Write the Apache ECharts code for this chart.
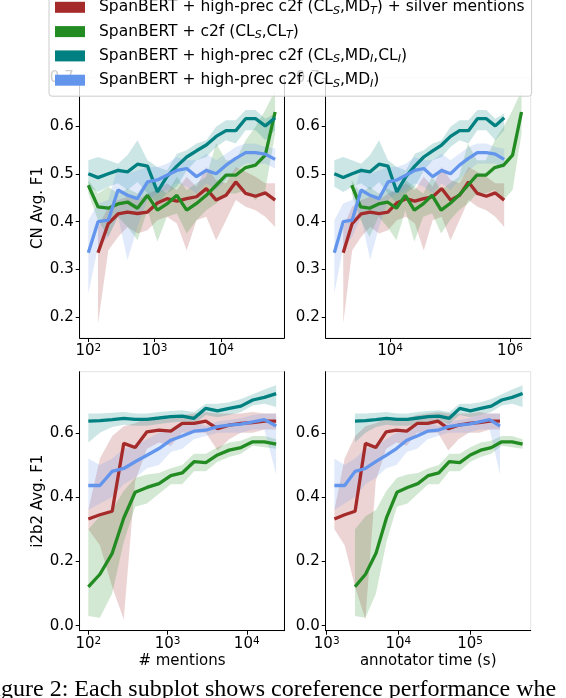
<!DOCTYPE html>
<html><head><meta charset="utf-8">
<style>html,body{margin:0;padding:0;background:#fff}#c{width:566px;height:698px}</style>
<script src="https://cdn.jsdelivr.net/npm/echarts@6/dist/echarts.min.js"></script>
</head><body><div id="c"></div>
<script>
// ---------- categories ----------
const modelNames = [
  'SpanBERT + high-prec c2f (CL_S,MD_T) + silver mentions',
  'SpanBERT + c2f (CL_S,CL_T)',
  'SpanBERT + high-prec c2f (CL_S,MD_I,CL_I)',
  'SpanBERT + high-prec c2f (CL_S,MD_I)'
];
const modelColors = ['#a52a2a', '#228b22', '#008080', '#6495ed'];

// ---------- x values ----------
const cnMentions = [100,140,200,280,390,550,780,1100,1530,2160,3040,4270,6000,8450,11900,16700,23500,33100,46500,65400];
const cnTimeHP   = [1180,1660,2340,3300,4660,6560,9250,13000,18400,25900,36500,51400,72400,102000,144000,203000,286000,403000,568000,800000];
const cnTimeC2F  = [2300,3240,4560,6430,9060,12800,18000,25400,35700,50400,71000,100000,141000,199000,280000,395000,556000,783000,1104000,1556000];
const i2b2Mentions = [100,140,200,280,390,550,780,1100,1530,2160,3040,4270,6000,8450,11900,16700,23500];
const i2b2TimeA  = [1280,1780,2490,3470,4840,6750,9420,13100,18300,25600,35700,49700,69300,96700,135000,188000,262000];
const i2b2TimeB  = [2480,3480,4870,6820,9550,13400,18700,26200,36700,51400,71900,101000,141000,198000,277000,387000,542000];

// ---------- CN values ----------
const cnSilver   = [null,0.335,0.396,0.416,0.420,0.417,0.420,0.439,0.448,0.443,0.448,0.452,0.469,0.445,0.455,0.483,0.459,0.453,0.460,0.445];
const cnSilverHi = [null,0.389,0.431,0.445,0.452,0.445,0.459,0.466,0.480,0.466,0.494,0.473,0.514,0.487,0.480,0.514,0.504,0.494,0.480,0.480];
const cnSilverLo = [null,0.187,0.340,0.368,0.389,0.375,0.382,0.403,0.410,0.396,0.340,0.403,0.410,0.361,0.403,0.445,0.431,0.424,0.410,0.389];
const cnC2f      = [0.476,0.431,0.428,0.437,0.441,0.428,0.455,0.424,0.437,0.455,0.424,0.438,0.455,0.476,0.497,0.497,0.513,0.518,0.539,0.629];
const cnC2fHi    = [0.487,0.459,0.473,0.459,0.469,0.459,0.487,0.473,0.459,0.494,0.466,0.480,0.494,0.563,0.528,0.528,0.570,0.598,0.633,0.674];
const cnC2fLo    = [0.459,0.403,0.368,0.410,0.389,0.361,0.424,0.358,0.410,0.417,0.375,0.403,0.424,0.438,0.459,0.459,0.466,0.445,0.466,0.584];
const cnMdCl     = [0.500,0.492,0.500,0.507,0.504,0.520,0.516,0.462,0.494,0.516,0.535,0.548,0.560,0.578,0.590,0.590,0.615,0.615,0.600,0.617];
const cnMdClHi   = [0.528,0.535,0.528,0.521,0.539,0.570,0.528,0.514,0.507,0.542,0.549,0.563,0.570,0.598,0.612,0.612,0.633,0.633,0.615,0.626];
const cnMdClLo   = [0.473,0.462,0.473,0.480,0.466,0.483,0.459,0.438,0.459,0.473,0.507,0.528,0.535,0.556,0.570,0.563,0.591,0.591,0.570,0.591];
const cnMd       = [0.335,0.400,0.403,0.466,0.455,0.448,0.483,0.487,0.497,0.507,0.511,0.494,0.507,0.500,0.518,0.532,0.544,0.544,0.541,0.530];
const cnMdHi     = [0.403,0.438,0.445,0.514,0.500,0.507,0.514,0.514,0.521,0.535,0.528,0.528,0.542,0.528,0.542,0.556,0.563,0.563,0.556,0.553];
const cnMdLo     = [0.250,0.347,0.368,0.410,0.320,0.389,0.445,0.459,0.466,0.480,0.473,0.459,0.480,0.466,0.487,0.507,0.521,0.521,0.521,0.511];

// ---------- i2b2 values ----------
const iSilver   = [0.332,0.345,0.356,0.567,0.554,0.603,0.608,0.605,0.629,0.629,0.636,0.613,0.624,0.629,0.632,0.636,0.636];
const iSilverHi = [0.360,0.520,0.590,0.620,0.630,0.645,0.640,0.645,0.655,0.660,0.665,0.660,0.660,0.660,0.665,0.660,0.660];
const iSilverLo = [0.300,0.250,0.120,0.020,0.450,0.550,0.570,0.560,0.600,0.600,0.600,0.545,0.580,0.600,0.600,0.610,0.610];
const iC2f      = [0.121,0.160,0.225,0.335,0.415,0.430,0.442,0.467,0.475,0.510,0.507,0.531,0.546,0.554,0.572,0.572,0.565];
const iC2fHi    = [0.300,0.340,0.360,0.420,0.460,0.470,0.475,0.490,0.500,0.535,0.535,0.555,0.570,0.575,0.590,0.590,0.580];
const iC2fLo    = [0.030,0.025,0.100,0.260,0.370,0.380,0.410,0.440,0.440,0.480,0.480,0.510,0.525,0.535,0.560,0.555,0.550];
const iMdCl     = [0.636,0.638,0.641,0.645,0.642,0.642,0.646,0.650,0.652,0.645,0.676,0.668,0.676,0.683,0.702,0.710,0.722];
const iMdClHi   = [0.660,0.660,0.662,0.665,0.660,0.660,0.665,0.668,0.670,0.665,0.690,0.690,0.695,0.705,0.720,0.735,0.748];
const iMdClLo   = [0.570,0.600,0.618,0.625,0.622,0.622,0.627,0.632,0.635,0.628,0.655,0.648,0.655,0.665,0.685,0.690,0.680];
const iMd       = [0.436,0.436,0.480,0.489,0.510,0.530,0.551,0.577,0.590,0.605,0.608,0.619,0.624,0.627,0.634,0.641,0.621];
const iMdHi     = [0.520,0.500,0.520,0.550,0.560,0.580,0.600,0.610,0.625,0.635,0.620,0.635,0.640,0.645,0.655,0.660,0.660];
const iMdLo     = [0.360,0.380,0.400,0.440,0.460,0.490,0.500,0.540,0.550,0.580,0.590,0.600,0.600,0.600,0.610,0.610,0.470];

// ---------- tick values ----------
const cnYTicks = [0.2,0.3,0.4,0.5,0.6,0.7];
const i2b2YTicks = [0.0,0.2,0.4,0.6];
const cnMentionTicks = [100,1000,10000];
const cnTimeTicks = [10000,1000000];
const i2b2MentionTicks = [100,1000,10000];
const i2b2TimeTicks = [1000,10000,100000];

const FONT = 'DejaVu Sans';
const log10 = v => Math.log10(v);

const panels = [
  {x:[cnMentions,cnMentions,cnMentions,cnMentions], m:[[cnSilver,cnSilverLo,cnSilverHi],[cnC2f,cnC2fLo,cnC2fHi],[cnMdCl,cnMdClLo,cnMdClHi],[cnMd,cnMdLo,cnMdHi]]},
  {x:[cnTimeHP,cnTimeC2F,cnTimeHP,cnTimeHP], m:[[cnSilver,cnSilverLo,cnSilverHi],[cnC2f,cnC2fLo,cnC2fHi],[cnMdCl,cnMdClLo,cnMdClHi],[cnMd,cnMdLo,cnMdHi]]},
  {x:[i2b2Mentions,i2b2Mentions,i2b2Mentions,i2b2Mentions], m:[[iSilver,iSilverLo,iSilverHi],[iC2f,iC2fLo,iC2fHi],[iMdCl,iMdClLo,iMdClHi],[iMd,iMdLo,iMdHi]]},
  {x:[i2b2TimeA,i2b2TimeB,i2b2TimeB,i2b2TimeA], m:[[iSilver,iSilverLo,iSilverHi],[iC2f,iC2fLo,iC2fHi],[iMdCl,iMdClLo,iMdClHi],[iMd,iMdLo,iMdHi]]}
];

const gridBoxes = [
  {left:79.7, top:78, width:204.6, height:260},
  {left:325.7, top:78, width:205, height:260},
  {left:79.7, top:371.7, width:204.6, height:259},
  {left:325.7, top:371.7, width:205, height:259}
];
const xRanges = [[1.870,4.954],[2.928,6.345],[1.891,4.474],[2.986,5.847]];
const yRanges = [[0.157,0.7],[0.157,0.7],[-0.0156,0.79],[-0.0156,0.79]];
const xTickSets = [cnMentionTicks, cnTimeTicks, i2b2MentionTicks, i2b2TimeTicks];
const yTickSets = [cnYTicks, cnYTicks, i2b2YTicks, i2b2YTicks];
const xNames = ['', '', '# mentions', 'annotator time (s)'];
const yNames = ['CN Avg. F1', '', 'i2b2 Avg. F1', ''];

const grid = gridBoxes.map(g => Object.assign({show:true, borderColor:'#e3e3e3', borderWidth:1, backgroundColor:'transparent', containLabel:false}, g));

const xAxis = gridBoxes.map((g, i) => ({
  type:'value', gridIndex:i, min:xRanges[i][0], max:xRanges[i][1],
  axisLine:{show:true, onZero:false, lineStyle:{color:'#000', width:1}},
  axisTick:{show:true, length:4, customValues:xTickSets[i].map(log10), lineStyle:{color:'#000', width:1}},
  axisLabel:{show:true, margin:5, customValues:xTickSets[i].map(log10),
    formatter: v => '{b|10}{p|' + Math.round(v) + '}',
    rich:{b:{fontSize:15, fontFamily:FONT, color:'#000', lineHeight:17}, p:{fontSize:10.5, fontFamily:FONT, color:'#000', lineHeight:10, verticalAlign:'top'}}},
  splitLine:{show:false},
  name:xNames[i], nameLocation:'middle', nameGap:23,
  nameTextStyle:{fontSize:15, fontFamily:FONT, color:'#000'}
}));

const yAxis = gridBoxes.map((g, i) => ({
  type:'value', gridIndex:i, min:yRanges[i][0], max:yRanges[i][1],
  axisLine:{show:true, onZero:false, lineStyle:{color:'#000', width:1}},
  axisTick:{show:true, length:4, customValues:yTickSets[i], lineStyle:{color:'#000', width:1}},
  axisLabel:{show:true, margin:6, customValues:yTickSets[i], formatter: v => v.toFixed(1),
    fontSize:15, fontFamily:FONT, color:'#000'},
  splitLine:{show:false},
  name:yNames[i], nameLocation:'middle', nameGap:32,
  nameTextStyle:{fontSize:15, fontFamily:FONT, color:'#000'}
}));
[0,2].forEach(i => yAxis.push({
  type:'value', gridIndex:i, position:'right', min:yRanges[i][0], max:yRanges[i][1],
  axisLine:{show:true, onZero:false, lineStyle:{color:'#000', width:1}},
  axisTick:{show:false}, axisLabel:{show:false}, splitLine:{show:false}
}));

const series = [];
const lines = [];
panels.forEach((p, gi) => {
  p.m.forEach((arrs, mi) => {
    const [mean, lo, hi] = arrs;
    const xs = p.x[mi];
    const idx = mean.map((v, k) => k).filter(k => mean[k] != null);
    const color = modelColors[mi];
    // confidence band: one polygon built from the band values through the grid's coordinate system
    series.push({
      type:'custom', name:'band', xAxisIndex:gi, yAxisIndex:gi, silent:true, z:1,
      data: idx.map(k => [log10(xs[k]), lo[k], hi[k]]),
      encode:{x:0, y:[1,2]},
      renderItem: (params, api) => {
        if (params.dataIndex !== 0) return null;
        const pts = [];
        idx.forEach(k => pts.push(api.coord([log10(xs[k]), hi[k]])));
        idx.slice().reverse().forEach(k => pts.push(api.coord([log10(xs[k]), lo[k]])));
        return {type:'polygon', shape:{points:pts}, style:{fill:color, opacity:0.2}};
      }
    });
    lines.push({type:'line', name:modelNames[mi], xAxisIndex:gi, yAxisIndex:gi, color:color,
      itemStyle:{color:color}, data: idx.map(k => [log10(xs[k]), mean[k]]),
      symbol:'none', showSymbol:false, lineStyle:{color:color, width:3.3}, z:2});
  });
});
series.push(...lines);

function richLegend(name) {
  return name.split(/(_[A-Z])/).filter(s => s).map(s => s[0] === '_' ? '{s|' + s[1] + '}' : '{n|' + s + '}').join('');
}

const chart = echarts.init(document.getElementById('c'), null, {renderer:'canvas'});
chart.setOption({
  animation:false,
  backgroundColor:'#fff',
  grid, xAxis, yAxis, series,
  legend:{
    data:modelNames, orient:'vertical', left:49, top:-7.7, padding:[7,7,7,6], itemGap:7.3,
    itemWidth:30, itemHeight:11, icon:'rect', selectedMode:false,
    backgroundColor:'rgba(255,255,255,0.8)', borderColor:'#cccccc', borderWidth:1, borderRadius:3,
    formatter: name => '{g| }' + richLegend(name),
    textStyle:{rich:{
      g:{width:9, fontSize:12},
      n:{fontSize:15.5, fontFamily:FONT, color:'#000', lineHeight:18},
      s:{fontSize:11, fontFamily:FONT, fontStyle:'italic', color:'#000', lineHeight:11, verticalAlign:'bottom'}
    }}
  },
  graphic:[{
    type:'text', x:-19, y:690, z:10,
    style:{text:'Figure 2: Each subplot shows coreference performance whe', font:'24px "Liberation Serif"', fill:'#000', verticalAlign:'middle', align:'left'}
  }]
});
</script></body></html>
